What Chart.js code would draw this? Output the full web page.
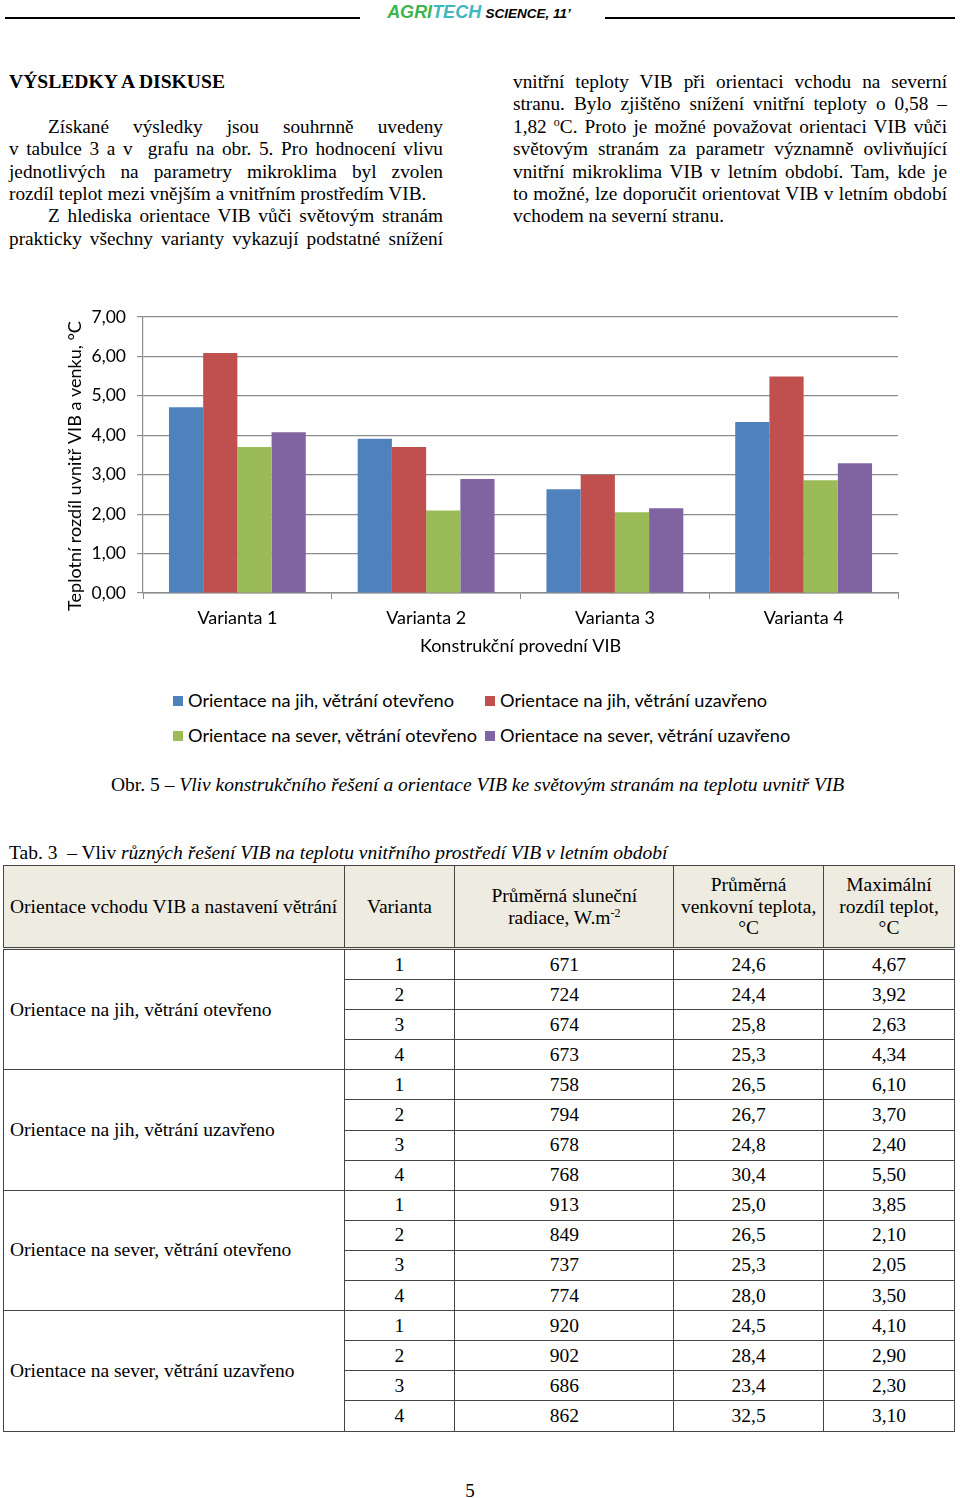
<!DOCTYPE html>
<html lang="cs">
<head>
<meta charset="utf-8">
<script src="https://cdn.jsdelivr.net/npm/chart.js@4.4.1/dist/chart.umd.min.js"></script>
<style>
html, body { margin: 0; padding: 0; background: #fff; }
body { width: 960px; height: 1498px; position: relative; overflow: hidden;
       font-family: "Liberation Serif", "Times New Roman", serif; color: #000; }
.hline { position: absolute; top: 17px; height: 2px; background: #000; }
.journal { position: absolute; top: 2px; left: 0; width: 958px; text-align: center;
           font-family: "Liberation Sans", Arial, sans-serif; font-style: italic; font-weight: bold; }
.journal .agri { color: #3cb54a; font-size: 18px; }
.journal .tech { color: #3fb8c0; font-size: 18px; }
.journal .sci { font-size: 13.5px; }
.col { position: absolute; top: 71px; width: 434px; font-size: 19.3px; line-height: 22.4px; }
.col div { text-align: justify; text-align-last: justify; white-space: nowrap; }
.col div.last { text-align-last: left; }
.col div.ind { padding-left: 39px; }
.col h3 { margin: 0 0 22.4px 0; font-size: 19.6px; line-height: 22.4px; }
#chartbox { position: absolute; left: 0; top: 290px; width: 960px; height: 380px; }
.legend { position: absolute; font-family: Lato, "Open Sans", sans-serif; font-size: 18.2px; line-height: 20px; white-space: nowrap; }
.legend i { display: inline-block; width: 10px; height: 10px; margin-right: 5px; vertical-align: 1px; }
.cap { position: absolute; font-size: 19.5px; white-space: nowrap; }
table { position: absolute; left: 3px; top: 865px; width: 952px; border-collapse: collapse; font-size: 19.5px; }
td, th { border: 1px solid #444; padding: 0; font-weight: normal; }
thead th { background: #eeece1; height: 81px; line-height: 21.5px; text-align: center; border-bottom: 3px double #444; }
thead th.first { text-align: left; padding-left: 6px; }
tbody td { height: 29.1px; text-align: center; }
tbody td.grp { text-align: left; padding-left: 6px; }
.pnum { position: absolute; left: 0; width: 940px; top: 1480px; text-align: center; font-size: 19px; }
</style>
</head>
<body>
<div class="hline" style="left:5px;width:355px"></div>
<div class="hline" style="left:605px;width:350px"></div>
<div class="journal"><span class="agri">AGRI</span><span class="tech">TECH</span> <span class="sci">SCIENCE, 11’</span></div>

<div class="col" style="left:9px">
  <h3>VÝSLEDKY A DISKUSE</h3>
  <div class="ind">Získané výsledky jsou souhrnně uvedeny</div>
  <div>v tabulce 3 a v&nbsp; grafu na obr. 5. Pro hodnocení vlivu</div>
  <div>jednotlivých na parametry mikroklima byl zvolen</div>
  <div class="last">rozdíl teplot mezi vnějším a vnitřním prostředím VIB.</div>
  <div class="ind">Z hlediska orientace VIB vůči světovým stranám</div>
  <div>prakticky všechny varianty vykazují podstatné snížení</div>
</div>
<div class="col" style="left:513px">
  <div>vnitřní teploty VIB při orientaci vchodu na severní</div>
  <div>stranu. Bylo zjištěno snížení vnitřní teploty o 0,58 –</div>
  <div>1,82 <sup style="font-size:12px;line-height:0">o</sup>C. Proto je možné považovat orientaci VIB vůči</div>
  <div>světovým stranám za parametr významně ovlivňující</div>
  <div>vnitřní mikroklima VIB v letním období. Tam, kde je</div>
  <div>to možné, lze doporučit orientovat VIB v letním období</div>
  <div class="last">vchodem na severní stranu.</div>
</div>

<div id="chartbox"><canvas id="stage" width="960" height="380"></canvas></div>
<div id="legend"></div>

<div class="cap" style="left:111px;top:774px">Obr. 5 <i>– Vliv konstrukčního řešení a orientace VIB ke světovým stranám na teplotu uvnitř VIB</i></div>
<div class="cap" style="left:9px;top:842px">Tab. 3 &nbsp;– Vliv <i>různých řešení VIB na teplotu vnitřního prostředí VIB v letním období</i></div>

<table id="tab">
  <colgroup><col style="width:341px"><col style="width:111px"><col style="width:219px"><col style="width:150px"><col style="width:131px"></colgroup>
  <thead><tr>
    <th class="first">Orientace vchodu VIB a nastavení větrání</th>
    <th>Varianta</th>
    <th>Průměrná sluneční<br>radiace, W.m<sup style="font-size:12px;line-height:0">-2</sup></th>
    <th>Průměrná<br>venkovní teplota,<br>°C</th>
    <th>Maximální<br>rozdíl teplot,<br>°C</th>
  </tr></thead>
  <tbody id="tbody"></tbody>
</table>

<div class="pnum">5</div>

<script>
// graf – hodnoty
const categories = ['Varianta 1', 'Varianta 2', 'Varianta 3', 'Varianta 4'];
const seriesNames = [
    'Orientace na jih, větrání otevřeno',
    'Orientace na jih, větrání uzavřeno',
    'Orientace na sever, větrání otevřeno',
    'Orientace na sever, větrání uzavřeno'
];
const jihOtevreno = [4.71, 3.91, 2.63, 4.34];
const jihUzavreno = [6.09, 3.70, 3.00, 5.49];
const severOtevreno = [3.70, 2.09, 2.05, 2.86];
const severUzavreno = [4.08, 2.89, 2.15, 3.29];
const seriesColors = ['#4f81bd', '#c0504d', '#9bbb59', '#8064a2'];
const yTitle = 'Teplotní rozdíl uvnitř VIB a venku, °C';
const xTitle = 'Konstrukční provední VIB';

// tabulka 3
const varianty = ['1', '2', '3', '4'];
const radiace = [[671, 724, 674, 673], [758, 794, 678, 768], [913, 849, 737, 774], [920, 902, 686, 862]];
const teplota = [['24,6', '24,4', '25,8', '25,3'], ['26,5', '26,7', '24,8', '30,4'], ['25,0', '26,5', '25,3', '28,0'], ['24,5', '28,4', '23,4', '32,5']];
const rozdil = [['4,67', '3,92', '2,63', '4,34'], ['6,10', '3,70', '2,40', '5,50'], ['3,85', '2,10', '2,05', '3,50'], ['4,10', '2,90', '2,30', '3,10']];

const seriesData = [jihOtevreno, jihUzavreno, severOtevreno, severUzavreno];
const font = { family: 'Lato', size: 18 };
const gridColor = '#8c8c8c';

// popis osy y – trochu níž než střed osy, jako v originále
const yTitlePlugin = {
    id: 'yTitle',
    afterDraw(chart) {
        const ctx = chart.ctx;
        const a = chart.chartArea;
        ctx.save();
        ctx.translate(75, (a.top + a.bottom) / 2 + 11);
        ctx.rotate(-Math.PI / 2);
        ctx.font = '18px Lato';
        ctx.fillStyle = '#000';
        ctx.textAlign = 'center';
        ctx.textBaseline = 'middle';
        ctx.fillText(yTitle, 0, 0);
        ctx.restore();
    }
};

new Chart(document.getElementById('stage'), {
    type: 'bar',
    data: {
        labels: categories,
        datasets: seriesNames.map((name, i) => ({
            label: name,
            data: seriesData[i],
            backgroundColor: seriesColors[i],
            borderWidth: 0,
            categoryPercentage: 0.725,
            barPercentage: 1
        }))
    },
    options: {
        responsive: false,
        animation: false,
        layout: { padding: { left: 0, right: 62, top: 27, bottom: 0 } },
        plugins: { legend: { display: false }, tooltip: { enabled: false } },
        scales: {
            x: {
                grid: { drawOnChartArea: false, tickLength: 6, color: gridColor, offset: true },
                border: { color: gridColor, width: 1.5 },
                ticks: { font: font, color: '#000', padding: 8 },
                title: { display: true, text: xTitle, font: font, color: '#000', padding: { top: 0, bottom: 13 } },
                afterFit: s => { s.height = 77; }
            },
            y: {
                min: 0, max: 7,
                ticks: { stepSize: 1, font: { family: 'Lato', size: 17.5 }, color: '#000', padding: 11,
                    callback: v => v.toFixed(2).replace('.', ',') },
                grid: { color: gridColor, tickLength: 6, lineWidth: 1.2 },
                border: { color: gridColor, width: 1.2 },
                afterFit: s => { s.width = 143; }
            }
        }
    },
    plugins: [yTitlePlugin]
});

// legenda
const legendPos = [[173, 690], [485, 690], [173, 725], [485, 725]];
const lg = document.getElementById('legend');
seriesNames.forEach((name, i) => {
    const d = document.createElement('div');
    d.className = 'legend';
    d.style.left = legendPos[i][0] + 'px';
    d.style.top = legendPos[i][1] + 'px';
    d.innerHTML = '<i style="background:' + seriesColors[i] + '"></i>' + name;
    lg.appendChild(d);
});

// tabulka
const tb = document.getElementById('tbody');
seriesNames.forEach((name, g) => {
    varianty.forEach((v, r) => {
        const tr = document.createElement('tr');
        let html = '';
        if (r === 0) html += '<td class="grp" rowspan="4">' + name + '</td>';
        html += '<td>' + v + '</td><td>' + radiace[g][r] + '</td><td>' + teplota[g][r] + '</td><td>' + rozdil[g][r] + '</td>';
        tr.innerHTML = html;
        tb.appendChild(tr);
    });
});
</script>
</body>
</html>
